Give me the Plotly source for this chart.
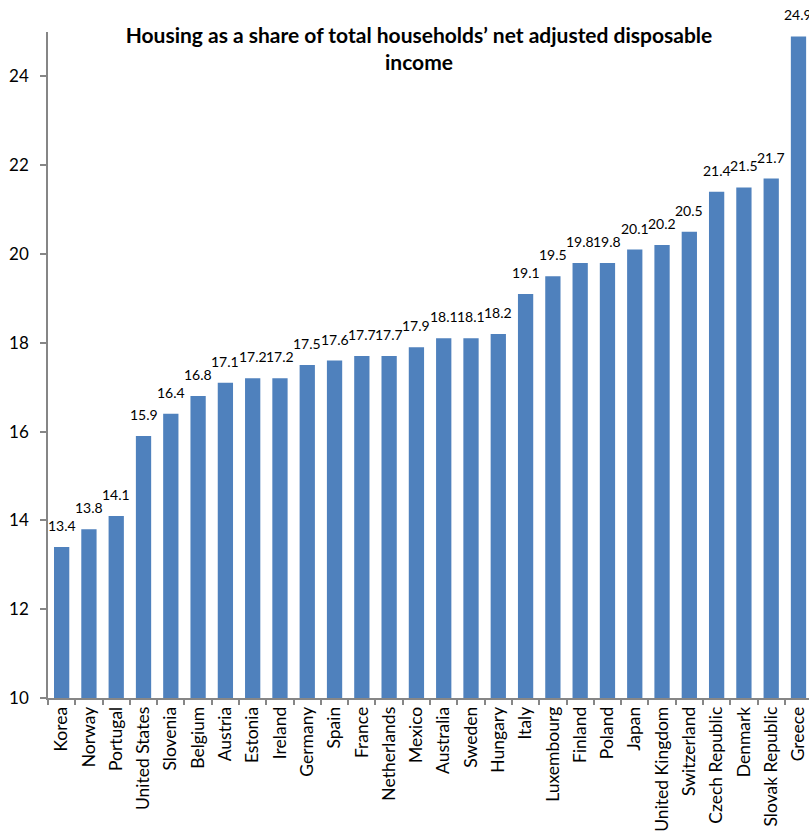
import plotly.graph_objects as go

countries = ["Korea", "Norway", "Portugal", "United States", "Slovenia", "Belgium", "Austria",
             "Estonia", "Ireland", "Germany", "Spain", "France", "Netherlands", "Mexico",
             "Australia", "Sweden", "Hungary", "Italy", "Luxembourg", "Finland", "Poland",
             "Japan", "United Kingdom", "Switzerland", "Czech Republic", "Denmark",
             "Slovak Republic", "Greece"]
values = [13.4, 13.8, 14.1, 15.9, 16.4, 16.8, 17.1, 17.2, 17.2, 17.5, 17.6, 17.7, 17.7, 17.9,
          18.1, 18.1, 18.2, 19.1, 19.5, 19.8, 19.8, 20.1, 20.2, 20.5, 21.4, 21.5, 21.7, 24.9]
y_ticks = [10, 12, 14, 16, 18, 20, 22, 24]

FONT = "Lato"
AX = "#868686"

fig = go.Figure(go.Bar(
    x=countries, y=values,
    marker=dict(color="#4F81BD", line=dict(width=0)),
    width=0.56,
))

for c, v in zip(countries, values):
    fig.add_annotation(
        x=c, y=v, text=f"{v:.1f}", showarrow=False,
        xanchor="center", yanchor="bottom", yshift=11,
        font=dict(family=FONT, size=14, color="#000000"),
    )

fig.update_layout(
    width=809, height=834,
    margin=dict(l=48, r=0, t=32, b=136),
    paper_bgcolor="white", plot_bgcolor="white",
    showlegend=False,
    title=dict(
        text="Housing as a share of total households’ net adjusted disposable<br>income",
        font=dict(family=FONT, size=21, color="#000000", weight="bold"),
        x=0.4875, xref="paper", xanchor="center",
        y=1 - 43 / 834, yref="container", yanchor="top",
    ),
)
fig.update_xaxes(
    type="category",
    range=[-0.5, 27.385],
    showline=True, linecolor=AX, linewidth=1.5,
    ticks="outside", tickson="boundaries", ticklen=5, tickcolor=AX, tickwidth=1.5,
    tickangle=-90,
    tickfont=dict(family=FONT, size=17.5, color="#000000"),
    showgrid=False,
)
fig.update_yaxes(
    range=[10, 25],
    tickvals=y_ticks,
    showline=True, linecolor=AX, linewidth=1.5,
    ticks="outside", ticklen=6, tickcolor=AX, tickwidth=1.5,
    ticklabelstandoff=8,
    tickfont=dict(family=FONT, size=17, color="#000000"),
    showgrid=False, zeroline=False,
)

fig.write_html("out.html")
